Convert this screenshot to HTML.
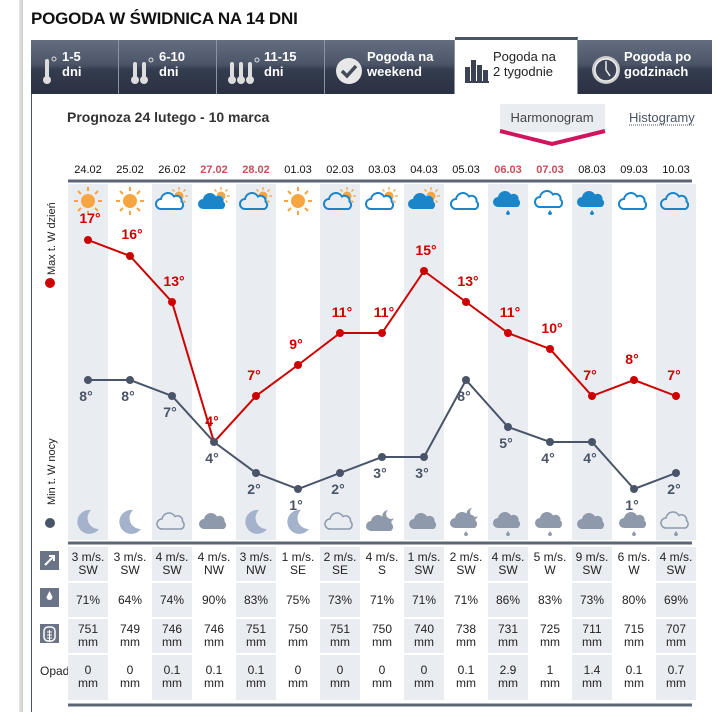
<!DOCTYPE html>
<html><head><meta charset="utf-8"><style>
body{margin:0;width:718px;height:712px;background:#fff;font-family:"Liberation Sans",sans-serif;overflow:hidden;position:relative}
.sh{position:absolute;left:19px;top:0;width:4px;height:712px;background:linear-gradient(90deg,#e4e4e4,#cfcfcf)}
h1{position:absolute;left:31px;top:9px;margin:0;font-size:17px;font-weight:bold;color:#111;letter-spacing:-0.2px}
.tab{position:absolute;top:40px;height:54px;background:linear-gradient(#646e80 0%,#4c5568 45%,#343c4f 55%,#2a3142 100%);border-right:1px solid #8a94a5;color:#fff;font-weight:bold;font-size:13px;line-height:15px;box-sizing:border-box}
.tab span{position:absolute;top:9px}
.act{background:#fff;color:#222;font-weight:normal;border-top:3px solid #4a5468;top:37px;height:57px}
.box{position:absolute;left:31px;top:94px;width:681px;height:618px;border-left:1px solid #4a5468}
</style></head><body>
<div class="sh"></div>
<h1>POGODA W ŚWIDNICA NA 14 DNI</h1>
<div class="tab" style="left:31px;width:88px"><svg width="88" height="54" style="position:absolute;left:0;top:0"><rect x="14" y="19" width="4" height="20" rx="2" fill="#ddd"/><circle cx="16" cy="40" r="4" fill="#ddd"/><circle cx="23" cy="19" r="2" fill="none" stroke="#ddd"/></svg><span style="left:31px">1-5<br>dni</span></div>
<div class="tab" style="left:119px;width:98px"><svg width="98" height="54" style="position:absolute;left:0;top:0"><g fill="#ddd"><rect x="14" y="22" width="4" height="17" rx="2"/><circle cx="16" cy="40" r="4"/><rect x="23" y="22" width="4" height="17" rx="2"/><circle cx="25" cy="40" r="4"/></g><circle cx="32" cy="20" r="2" fill="none" stroke="#ddd"/></svg><span style="left:40px">6-10<br>dni</span></div>
<div class="tab" style="left:217px;width:108px"><svg width="108" height="54" style="position:absolute;left:0;top:0"><g fill="#ddd"><rect x="13" y="22" width="4" height="17" rx="2"/><circle cx="15" cy="40" r="4"/><rect x="22" y="22" width="4" height="17" rx="2"/><circle cx="24" cy="40" r="4"/><rect x="31" y="22" width="4" height="17" rx="2"/><circle cx="33" cy="40" r="4"/></g><circle cx="40" cy="20" r="2" fill="none" stroke="#ddd"/></svg><span style="left:47px">11-15<br>dni</span></div>
<div class="tab" style="left:325px;width:130px"><svg width="40" height="54" style="position:absolute;left:0;top:0"><circle cx="24" cy="31" r="13" fill="#e8e8e8"/><path d="M17 31l5 5 9-10" stroke="#444a58" stroke-width="3.5" fill="none"/></svg><span style="left:42px">Pogoda na<br>weekend</span></div>
<div class="tab act" style="left:455px;width:123px"><svg width="40" height="54" style="position:absolute;left:0;top:0"><g fill="#3a4254"><rect x="10" y="27" width="5" height="14"/><rect x="16" y="20" width="5" height="21"/><rect x="22" y="25" width="5" height="16"/><rect x="28" y="30" width="5" height="11"/><rect x="10" y="41" width="24" height="2"/></g></svg><span style="left:38px;top:9px">Pogoda na<br>2 tygodnie</span></div>
<div class="tab" style="left:578px;width:134px;border-right:none"><svg width="44" height="54" style="position:absolute;left:0;top:0"><circle cx="28" cy="30" r="14" fill="#ccc"/><circle cx="28" cy="30" r="11" fill="#3b4355" stroke="#eee" stroke-width="1.5"/><path d="M28 21v9l4 6" stroke="#eee" stroke-width="1.5" fill="none"/></svg><span style="left:46px">Pogoda po<br>godzinach</span></div>
<div class="box"></div>
<svg width="718" height="712" style="position:absolute;left:0;top:0" font-family="Liberation Sans, sans-serif">
<defs>
<g id="sun"><g stroke="#f7a540" stroke-width="2"><path d="M0-14v4M0 10v4M-14 0h4M10 0h4M-10-10l3 3M7 7l3 3M-10 10l3-3M7-7l3-3"/></g><circle r="7" fill="#f7a540"/></g>
<g id="ssun"><g stroke="#f7a540" stroke-width="1.3"><path d="M0-9v3M0 6v3M-9 0h3M6 0h3M-6.5-6.5l2 2M4.5 4.5l2 2M-6.5 6.5l2-2M4.5-4.5l2-2"/></g><circle r="4.5" fill="#f7a540"/></g>
<path id="cl" d="M-10 7a5 5 0 0 1 0-10a7 7 0 0 1 13-2.5a5 5 0 0 1 7.5 5a4.5 4.5 0 0 1-1 7.5z"/>
<path id="drop" d="M0-3l2 3a2 2 0 1 1-4 0z"/>
<path id="moon" d="M3 -12A12 12 0 1 0 11 7A11 11 0 0 1 3 -12z"/>
</defs>
<line x1="68" y1="181" x2="692" y2="181" stroke="#5c6677" stroke-width="3"/>
<line x1="68" y1="543" x2="692" y2="543" stroke="#5c6677" stroke-width="3"/>
<line x1="68" y1="705" x2="692" y2="705" stroke="#5c6677" stroke-width="3"/>
<g fill="#e9ecf1">
<rect x="68" y="184" width="40" height="356"/><rect x="152" y="184" width="40" height="356"/><rect x="236" y="184" width="40" height="356"/><rect x="320" y="184" width="40" height="356"/><rect x="404" y="184" width="40" height="356"/><rect x="488" y="184" width="40" height="356"/><rect x="572" y="184" width="40" height="356"/><rect x="656" y="184" width="40" height="356"/>
</g>
<text x="67" y="122" font-size="14" font-weight="bold" fill="#333">Prognoza 24 lutego - 10 marca</text>
<rect x="500" y="104" width="105" height="28" fill="#e9ecf1"/>
<path d="M500 131l52 13 53-13" stroke="#d0155e" stroke-width="4" fill="none"/>
<text x="552" y="122" font-size="13" fill="#444" text-anchor="middle">Harmonogram</text>
<text x="629" y="122" font-size="13" fill="#4a5468">Histogramy</text>
<line x1="629" y1="125" x2="694" y2="125" stroke="#4a5468" stroke-dasharray="1 1"/>
<g font-size="11" text-anchor="middle" fill="#111">
<text x="88" y="173">24.02</text><text x="130" y="173">25.02</text><text x="172" y="173">26.02</text>
<text x="214" y="173" fill="#c8505a" font-weight="bold">27.02</text><text x="256" y="173" fill="#c8505a" font-weight="bold">28.02</text>
<text x="298" y="173">01.03</text><text x="340" y="173">02.03</text><text x="382" y="173">03.03</text><text x="424" y="173">04.03</text><text x="466" y="173">05.03</text>
<text x="508" y="173" fill="#c8505a" font-weight="bold">06.03</text><text x="550" y="173" fill="#c8505a" font-weight="bold">07.03</text>
<text x="592" y="173">08.03</text><text x="634" y="173">09.03</text><text x="676" y="173">10.03</text>
</g>
<!-- day icons -->
<use href="#sun" x="88" y="201"/><use href="#sun" x="130" y="201"/><use href="#sun" x="298" y="201"/>
<g><use href="#ssun" x="179" y="196"/><use href="#cl" x="171" y="202" fill="#fff" stroke="#1a85c8" stroke-width="2"/></g>
<g><use href="#ssun" x="221" y="196"/><use href="#cl" x="213" y="202" fill="#1a85c8"/></g>
<g><use href="#ssun" x="263" y="196"/><use href="#cl" x="255" y="202" fill="#e9ecf1" stroke="#1a85c8" stroke-width="2"/></g>
<g><use href="#ssun" x="347" y="196"/><use href="#cl" x="339" y="202" fill="#e9ecf1" stroke="#1a85c8" stroke-width="2"/></g>
<g><use href="#ssun" x="389" y="196"/><use href="#cl" x="381" y="202" fill="#fff" stroke="#1a85c8" stroke-width="2"/></g>
<g><use href="#ssun" x="431" y="196"/><use href="#cl" x="423" y="202" fill="#1a85c8"/></g>
<use href="#cl" x="466" y="202" fill="#fff" stroke="#1a85c8" stroke-width="2"/>
<use href="#cl" x="508" y="200" fill="#1a85c8"/><use href="#drop" x="508" y="213" fill="#1a85c8"/>
<use href="#cl" x="550" y="200" fill="#fff" stroke="#1a85c8" stroke-width="2"/><use href="#drop" x="550" y="213" fill="#1a85c8"/>
<use href="#cl" x="592" y="200" fill="#1a85c8"/><use href="#drop" x="592" y="213" fill="#1a85c8"/>
<use href="#cl" x="634" y="202" fill="#fff" stroke="#1a85c8" stroke-width="2"/>
<use href="#cl" x="676" y="202" fill="#e9ecf1" stroke="#1a85c8" stroke-width="2"/>
<!-- night icons -->
<g fill="#a4b2cb"><use href="#moon" x="88" y="522"/><use href="#moon" x="130" y="522"/><use href="#moon" x="256" y="522"/><use href="#moon" x="298" y="522"/></g>
<use href="#cl" x="172" y="522" fill="none" stroke="#8e99ab" stroke-width="1.5"/>
<use href="#cl" x="214" y="522" fill="#8e99ab"/>
<use href="#cl" x="340" y="522" fill="none" stroke="#8e99ab" stroke-width="1.5"/>
<path d="M388 510a6 6 0 1 0 6 8a5 5 0 0 1-6-8z" fill="#8e99ab"/><use href="#cl" x="381" y="524" fill="#8e99ab"/>
<use href="#cl" x="424" y="522" fill="#8e99ab"/>
<path d="M472 508a6 6 0 1 0 6 8a5 5 0 0 1-6-8z" fill="#8e99ab"/><use href="#cl" x="465" y="521" fill="#8e99ab"/><use href="#drop" x="466" y="534" fill="#8e99ab"/>
<use href="#cl" x="508" y="521" fill="#8e99ab"/><use href="#drop" x="508" y="534" fill="#8e99ab"/>
<use href="#cl" x="550" y="521" fill="#8e99ab"/><use href="#drop" x="550" y="534" fill="#8e99ab"/>
<use href="#cl" x="592" y="522" fill="#8e99ab"/>
<use href="#cl" x="634" y="521" fill="#8e99ab"/><use href="#drop" x="634" y="534" fill="#8e99ab"/>
<use href="#cl" x="676" y="521" fill="none" stroke="#8e99ab" stroke-width="1.5"/><use href="#drop" x="676" y="534" fill="#8e99ab"/>
<!-- side labels -->
<g font-size="11" fill="#222">
<text transform="translate(55,275) rotate(-90)">Max t. W dzień</text>
<text transform="translate(55,505) rotate(-90)">Min t. W nocy</text>
</g>
<circle cx="50" cy="283" r="5" fill="#cc0000"/><circle cx="50" cy="523" r="5" fill="#4a5468"/>
<!-- lines -->
<polyline fill="none" stroke="#4a5468" stroke-width="2" points="88,380 130,380 172,396 214,442 256,473 298,489 340,473 382,457 424,457 466,380 508,427 550,442 592,442 634,489 676,473"/>
<polyline fill="none" stroke="#cc0000" stroke-width="2" points="88,240 130,256 172,302 214,442 256,396 298,365 340,333 382,333 424,271 466,302 508,333 550,349 592,396 634,380 676,396"/>
<g fill="#4a5468"><circle cx="88" cy="380" r="4"/><circle cx="130" cy="380" r="4"/><circle cx="172" cy="396" r="4"/><circle cx="214" cy="442" r="4"/><circle cx="256" cy="473" r="4"/><circle cx="298" cy="489" r="4"/><circle cx="340" cy="473" r="4"/><circle cx="382" cy="457" r="4"/><circle cx="424" cy="457" r="4"/><circle cx="466" cy="380" r="4"/><circle cx="508" cy="427" r="4"/><circle cx="550" cy="442" r="4"/><circle cx="592" cy="442" r="4"/><circle cx="634" cy="489" r="4"/><circle cx="676" cy="473" r="4"/></g>
<g fill="#cc0000"><circle cx="88" cy="240" r="4"/><circle cx="130" cy="256" r="4"/><circle cx="172" cy="302" r="4"/><circle cx="256" cy="396" r="4"/><circle cx="298" cy="365" r="4"/><circle cx="340" cy="333" r="4"/><circle cx="382" cy="333" r="4"/><circle cx="424" cy="271" r="4"/><circle cx="466" cy="302" r="4"/><circle cx="508" cy="333" r="4"/><circle cx="550" cy="349" r="4"/><circle cx="592" cy="396" r="4"/><circle cx="634" cy="380" r="4"/><circle cx="676" cy="396" r="4"/></g>
<g font-size="14" font-weight="bold" fill="#cc0000" text-anchor="middle">
<text x="90" y="223">17°</text><text x="132" y="239">16°</text><text x="174" y="286">13°</text><text x="212" y="426">4°</text><text x="254" y="380">7°</text><text x="296" y="349">9°</text><text x="342" y="317">11°</text><text x="384" y="317">11°</text><text x="426" y="255">15°</text><text x="468" y="286">13°</text><text x="510" y="317">11°</text><text x="552" y="333">10°</text><text x="590" y="380">7°</text><text x="632" y="364">8°</text><text x="674" y="380">7°</text>
</g>
<g font-size="14" font-weight="bold" fill="#4a5468" text-anchor="middle">
<text x="86" y="401">8°</text><text x="128" y="401">8°</text><text x="170" y="417">7°</text><text x="212" y="463">4°</text><text x="254" y="494">2°</text><text x="296" y="510">1°</text><text x="338" y="494">2°</text><text x="380" y="478">3°</text><text x="422" y="478">3°</text><text x="464" y="401">8°</text><text x="506" y="448">5°</text><text x="548" y="463">4°</text><text x="590" y="463">4°</text><text x="632" y="510">1°</text><text x="674" y="494">2°</text>
</g>
<!-- table -->
<text x="40" y="675" font-size="12" fill="#222">Opad</text>
<g fill="#e9ecf1">
<rect x="68" y="547" width="40" height="34"/><rect x="152" y="547" width="40" height="34"/><rect x="236" y="547" width="40" height="34"/><rect x="320" y="547" width="40" height="34"/><rect x="404" y="547" width="40" height="34"/><rect x="488" y="547" width="40" height="34"/><rect x="572" y="547" width="40" height="34"/><rect x="656" y="547" width="40" height="34"/>
<rect x="68" y="583" width="40" height="34"/><rect x="152" y="583" width="40" height="34"/><rect x="236" y="583" width="40" height="34"/><rect x="320" y="583" width="40" height="34"/><rect x="404" y="583" width="40" height="34"/><rect x="488" y="583" width="40" height="34"/><rect x="572" y="583" width="40" height="34"/><rect x="656" y="583" width="40" height="34"/>
<rect x="68" y="619" width="40" height="34"/><rect x="152" y="619" width="40" height="34"/><rect x="236" y="619" width="40" height="34"/><rect x="320" y="619" width="40" height="34"/><rect x="404" y="619" width="40" height="34"/><rect x="488" y="619" width="40" height="34"/><rect x="572" y="619" width="40" height="34"/><rect x="656" y="619" width="40" height="34"/>
<rect x="68" y="655" width="40" height="45"/><rect x="152" y="655" width="40" height="45"/><rect x="236" y="655" width="40" height="45"/><rect x="320" y="655" width="40" height="45"/><rect x="404" y="655" width="40" height="45"/><rect x="488" y="655" width="40" height="45"/><rect x="572" y="655" width="40" height="45"/><rect x="656" y="655" width="40" height="45"/>
</g>
<g fill="#6b7486"><rect x="40" y="551" width="19" height="19"/><rect x="40" y="588" width="19" height="19"/><rect x="40" y="624" width="19" height="19"/></g>
<path d="M45 565l9-9M49 556h5v5" stroke="#fff" stroke-width="2" fill="none"/>
<path d="M49.5 591l3 6a3 3 0 1 1-6 0z" fill="#fff"/>
<rect x="44" y="627" width="11" height="14" rx="4" fill="none" stroke="#fff" stroke-width="1.5"/><path d="M47 632h5M47 635h5M47 638h5M49.5 630v12" stroke="#fff"/>
<g font-size="12" text-anchor="middle" fill="#222">
<g><text x="88" y="561">3 m/s.</text><text x="88" y="574">SW</text><text x="130" y="561">3 m/s.</text><text x="130" y="574">SW</text><text x="172" y="561">4 m/s.</text><text x="172" y="574">SW</text><text x="214" y="561">4 m/s.</text><text x="214" y="574">NW</text><text x="256" y="561">3 m/s.</text><text x="256" y="574">NW</text><text x="298" y="561">1 m/s.</text><text x="298" y="574">SE</text><text x="340" y="561">2 m/s.</text><text x="340" y="574">SE</text><text x="382" y="561">4 m/s.</text><text x="382" y="574">S</text><text x="424" y="561">1 m/s.</text><text x="424" y="574">SW</text><text x="466" y="561">2 m/s.</text><text x="466" y="574">SW</text><text x="508" y="561">4 m/s.</text><text x="508" y="574">SW</text><text x="550" y="561">5 m/s.</text><text x="550" y="574">W</text><text x="592" y="561">9 m/s.</text><text x="592" y="574">SW</text><text x="634" y="561">6 m/s.</text><text x="634" y="574">W</text><text x="676" y="561">4 m/s.</text><text x="676" y="574">SW</text></g>
<g><text x="88" y="604">71%</text><text x="130" y="604">64%</text><text x="172" y="604">74%</text><text x="214" y="604">90%</text><text x="256" y="604">83%</text><text x="298" y="604">75%</text><text x="340" y="604">73%</text><text x="382" y="604">71%</text><text x="424" y="604">71%</text><text x="466" y="604">71%</text><text x="508" y="604">86%</text><text x="550" y="604">83%</text><text x="592" y="604">73%</text><text x="634" y="604">80%</text><text x="676" y="604">69%</text></g>
<g><text x="88" y="633">751</text><text x="130" y="633">749</text><text x="172" y="633">746</text><text x="214" y="633">746</text><text x="256" y="633">751</text><text x="298" y="633">750</text><text x="340" y="633">751</text><text x="382" y="633">750</text><text x="424" y="633">740</text><text x="466" y="633">738</text><text x="508" y="633">731</text><text x="550" y="633">725</text><text x="592" y="633">711</text><text x="634" y="633">715</text><text x="676" y="633">707</text></g>
<g><text x="88" y="646">mm</text><text x="130" y="646">mm</text><text x="172" y="646">mm</text><text x="214" y="646">mm</text><text x="256" y="646">mm</text><text x="298" y="646">mm</text><text x="340" y="646">mm</text><text x="382" y="646">mm</text><text x="424" y="646">mm</text><text x="466" y="646">mm</text><text x="508" y="646">mm</text><text x="550" y="646">mm</text><text x="592" y="646">mm</text><text x="634" y="646">mm</text><text x="676" y="646">mm</text></g>
<g><text x="88" y="674">0</text><text x="130" y="674">0</text><text x="172" y="674">0.1</text><text x="214" y="674">0.1</text><text x="256" y="674">0.1</text><text x="298" y="674">0</text><text x="340" y="674">0</text><text x="382" y="674">0</text><text x="424" y="674">0</text><text x="466" y="674">0.1</text><text x="508" y="674">2.9</text><text x="550" y="674">1</text><text x="592" y="674">1.4</text><text x="634" y="674">0.1</text><text x="676" y="674">0.7</text></g>
<g><text x="88" y="687">mm</text><text x="130" y="687">mm</text><text x="172" y="687">mm</text><text x="214" y="687">mm</text><text x="256" y="687">mm</text><text x="298" y="687">mm</text><text x="340" y="687">mm</text><text x="382" y="687">mm</text><text x="424" y="687">mm</text><text x="466" y="687">mm</text><text x="508" y="687">mm</text><text x="550" y="687">mm</text><text x="592" y="687">mm</text><text x="634" y="687">mm</text><text x="676" y="687">mm</text></g>
</g>
</svg>
</body></html>
